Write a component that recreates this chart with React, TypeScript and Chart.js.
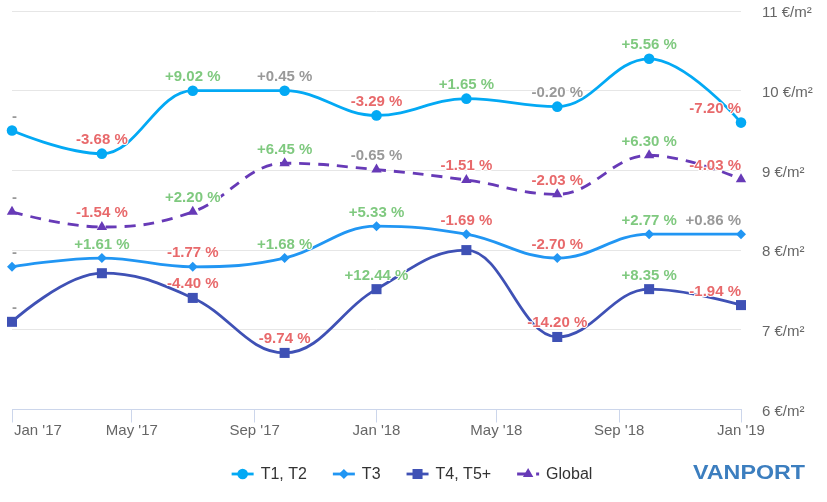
import React, { useEffect, useRef } from 'react';
import { Chart, registerables } from 'chart.js';

Chart.register(...registerables);

// ---------- data ----------
const seriesNames = ['T1, T2', 'T3', 'T4, T5+', 'Global'];
// days since 1 Jan 2017 of each quarterly observation
const pointDays = [0, 90, 181, 273, 365, 455, 546, 638, 730];
const tickDays = [0, 120, 243, 365, 485, 608, 730];
const tickLabels = ["Jan '17", "May '17", "Sep '17", "Jan '18", "May '18", "Sep '18", "Jan '19"];
const yTickValues = [6, 7, 8, 9, 10, 11];

const t1t2 = [9.5, 9.21, 10.0, 10.0, 9.69, 9.9, 9.8, 10.4, 9.6];
const t3 = [7.79, 7.9, 7.79, 7.9, 8.3, 8.2, 7.9, 8.2, 8.2];
const t4t5 = [7.1, 7.71, 7.4, 6.71, 7.51, 8.0, 6.91, 7.51, 7.31];
const globalVals = [8.48, 8.29, 8.48, 9.09, 9.01, 8.88, 8.7, 9.19, 8.89];

const t1t2Changes = ['-', '-3.68 %', '+9.02 %', '+0.45 %', '-3.29 %', '+1.65 %', '-0.20 %', '+5.56 %', '-7.20 %'];
const t3Changes = ['-', '+1.61 %', '-1.77 %', '+1.68 %', '+5.33 %', '-1.69 %', '-2.70 %', '+2.77 %', '+0.86 %'];
const t4t5Changes = ['-', '', '-4.40 %', '-9.74 %', '+12.44 %', '', '-14.20 %', '+8.35 %', '-1.94 %'];
const globalChanges = ['-', '-1.54 %', '+2.20 %', '+6.45 %', '-0.65 %', '-1.51 %', '-2.03 %', '+6.30 %', '-4.03 %'];

const seriesValues = [t1t2, t3, t4t5, globalVals];
const seriesChanges = [t1t2Changes, t3Changes, t4t5Changes, globalChanges];

// ---------- styles ----------
const FONT = '"Liberation Sans", Arial, Helvetica, sans-serif';
const seriesColors = ['#03a9f4', '#2196f3', '#3f51b5', '#673ab7'];
const pointStyles = ['circle', 'rectRot', 'rect', 'triangle'];
const pointRadii = [5.3, 5, 7.1, 6];
const dashes = [[], [], [], [11, 8]];
const GREEN = '#7fc97f';
const RED = '#e8696b';
const GRAY = '#999999';

function labelColor(t: string) {
  if (t === '-') return GRAY;
  const v = parseFloat(t.replace('%', ''));
  if (Math.abs(v) < 1) return GRAY;
  return v > 0 ? GREEN : RED;
}

// Highcharts-like spline control points
const splinePlugin = {
  id: 'hcSpline',
  beforeDatasetDraw(chart: any, args: any) {
    const meta = args.meta;
    const line = meta.dataset;
    if (!line) return;
    line.updateControlPoints(chart.chartArea, 'x');
    const pts = meta.data;
    const n = pts.length;
    const sm = 1.5;
    const den = sm + 1;
    for (let i = 0; i < n; i++) {
      const p = pts[i];
      p.cp1x = p.x; p.cp1y = p.y; p.cp2x = p.x; p.cp2y = p.y;
    }
    for (let i = 1; i < n - 1; i++) {
      const p = pts[i], a = pts[i - 1], b = pts[i + 1];
      const lx = (sm * p.x + a.x) / den;
      let ly = (sm * p.y + a.y) / den;
      const rx = (sm * p.x + b.x) / den;
      let ry = (sm * p.y + b.y) / den;
      let corr = 0;
      if (rx !== lx) corr = ((ry - ly) * (rx - p.x)) / (rx - lx) + p.y - ry;
      ly += corr; ry += corr;
      if (ly > a.y && ly > p.y) { ly = Math.max(a.y, p.y); ry = 2 * p.y - ly; }
      else if (ly < a.y && ly < p.y) { ly = Math.min(a.y, p.y); ry = 2 * p.y - ly; }
      if (ry > b.y && ry > p.y) { ry = Math.max(b.y, p.y); ly = 2 * p.y - ry; }
      else if (ry < b.y && ry < p.y) { ry = Math.min(b.y, p.y); ly = 2 * p.y - ry; }
      p.cp1x = lx; p.cp1y = ly; p.cp2x = rx; p.cp2y = ry;
    }
    line._path = undefined;
  },
};

function drawMarker(ctx: CanvasRenderingContext2D, style: string, x: number, y: number, r: number, color: string) {
  ctx.save();
  ctx.fillStyle = color;
  ctx.beginPath();
  if (style === 'circle') {
    ctx.arc(x, y, r, 0, Math.PI * 2);
  } else if (style === 'rectRot') {
    ctx.moveTo(x - r, y); ctx.lineTo(x, y - r); ctx.lineTo(x + r, y); ctx.lineTo(x, y + r); ctx.closePath();
  } else if (style === 'rect') {
    const s = r * Math.SQRT1_2;
    ctx.rect(x - s, y - s, 2 * s, 2 * s);
  } else {
    ctx.moveTo(x, y - r);
    ctx.lineTo(x + r * 0.866, y + r * 0.5);
    ctx.lineTo(x - r * 0.866, y + r * 0.5);
    ctx.closePath();
  }
  ctx.fill();
  ctx.restore();
}

const overlayPlugin = {
  id: 'overlay',
  afterDatasetsDraw(chart: any) {
    const ctx: CanvasRenderingContext2D = chart.ctx;
    const area = chart.chartArea;
    ctx.save();
    ctx.font = `bold 15px ${FONT}`;
    ctx.textBaseline = 'alphabetic';
    ctx.textAlign = 'left';
    ctx.lineJoin = 'round';
    seriesChanges.forEach((labels, di) => {
      const meta = chart.getDatasetMeta(di);
      meta.data.forEach((p: any, j: number) => {
        const t = labels[j];
        if (!t) return;
        const w = ctx.measureText(t).width;
        let left = p.x - w / 2;
        if (left < area.left) left = area.left;
        if (left + w > area.right) left = area.right - w;
        const y = p.y - 9.5;
        ctx.strokeStyle = '#ffffff';
        ctx.lineWidth = 2;
        ctx.strokeText(t, left, y);
        ctx.fillStyle = labelColor(t);
        ctx.fillText(t, left, y);
      });
    });
    ctx.restore();
  },
  afterDraw(chart: any) {
    const ctx: CanvasRenderingContext2D = chart.ctx;
    const xs = chart.scales.x;
    ctx.save();
    // x tick labels
    ctx.font = `15px ${FONT}`;
    ctx.fillStyle = '#666666';
    ctx.textBaseline = 'alphabetic';
    ctx.textAlign = 'left';
    tickDays.forEach((d, i) => {
      const px = xs.getPixelForValue(d);
      const t = tickLabels[i];
      const w = ctx.measureText(t).width;
      let left = px - w / 2;
      if (left < 14) left = 14;
      ctx.fillText(t, left, 435);
    });

    // legend
    ctx.font = `16px ${FONT}`;
    const symW = 22, gapText = 7, gapItem = 26;
    const widths = seriesNames.map((n) => ctx.measureText(n).width);
    const total = widths.reduce((s, w) => s + symW + gapText + w, 0) + gapItem * (seriesNames.length - 1);
    let x = 412 - total / 2;
    const ly = 474;
    seriesNames.forEach((n, i) => {
      ctx.save();
      ctx.strokeStyle = seriesColors[i];
      ctx.lineWidth = 2.8;
      ctx.setLineDash(dashes[i]);
      ctx.beginPath();
      ctx.moveTo(x, ly);
      ctx.lineTo(x + symW, ly);
      ctx.stroke();
      ctx.restore();
      drawMarker(ctx, pointStyles[i], x + symW / 2, ly, pointRadii[i], seriesColors[i]);
      ctx.fillStyle = '#333333';
      ctx.textBaseline = 'middle';
      ctx.fillText(n, x + symW + gapText, ly + 1);
      x += symW + gapText + widths[i] + gapItem;
    });

    // logo
    ctx.font = `bold 21px ${FONT}`;
    ctx.textBaseline = 'middle';
    const logo = 'VANPORT';
    const lw = ctx.measureText(logo).width;
    ctx.save();
    ctx.translate(693, 473);
    ctx.scale(112 / lw, 1);
    ctx.fillStyle = '#3c7ebf';
    ctx.fillText(logo, 0, 0);
    ctx.restore();
    ctx.restore();
  },
};

export default function App() {
  const ref = useRef<HTMLCanvasElement>(null);
  useEffect(() => {
    document.body.style.margin = '0';
    Chart.defaults.font.family = FONT;
    const datasets = seriesNames.map((name, i) => ({
      label: name,
      data: pointDays.map((d, j) => ({ x: d, y: seriesValues[i][j] })),
      borderColor: seriesColors[i],
      backgroundColor: seriesColors[i],
      borderWidth: 2.8,
      borderDash: dashes[i],
      pointStyle: pointStyles[i],
      pointRadius: pointRadii[i],
      pointBorderWidth: 0,
      pointBackgroundColor: seriesColors[i],
      tension: 0.4,
      fill: false,
      clip: false,
    }));
    const chart = new Chart(ref.current as HTMLCanvasElement, {
      type: 'line',
      data: { datasets },
      options: {
        responsive: false,
        animation: false,
        layout: { padding: { left: 12, top: 11, right: 0, bottom: 0 } },
        plugins: { legend: { display: false }, tooltip: { enabled: false } },
        scales: {
          x: {
            type: 'linear',
            min: 0,
            max: 730,
            afterBuildTicks: (s: any) => { s.ticks = tickDays.map((v) => ({ value: v })); },
            afterFit: (s: any) => { s.height = 92.5; s.paddingLeft = 0; s.paddingRight = 0; },
            grid: { drawOnChartArea: false, drawTicks: true, tickLength: 13, color: '#ccd6eb', lineWidth: 1 },
            border: { display: true, color: '#ccd6eb', width: 1 },
            ticks: { display: false },
          },
          y: {
            type: 'linear',
            position: 'right',
            min: 6,
            max: 11,
            afterBuildTicks: (s: any) => { s.ticks = yTickValues.map((v) => ({ value: v })); },
            afterFit: (s: any) => { s.width = 86; s.paddingTop = 0; s.paddingBottom = 0; },
            grid: {
              drawTicks: false,
              color: (c: any) => (c.tick && c.tick.value === 6 ? 'rgba(0,0,0,0)' : '#e6e6e6'),
              lineWidth: 1,
            },
            border: { display: false },
            ticks: {
              padding: 21,
              labelOffset: 2,
              color: '#666666',
              font: { size: 15, family: FONT },
              callback: (v: any) => `${v} €/m²`,
            },
          },
        },
      },
      plugins: [splinePlugin, overlayPlugin],
    } as any);
    return () => chart.destroy();
  }, []);
  return (
    <div style={{ width: 827, height: 502 }}>
      <canvas ref={ref} width={827} height={502} style={{ display: 'block' }} />
    </div>
  );
}
